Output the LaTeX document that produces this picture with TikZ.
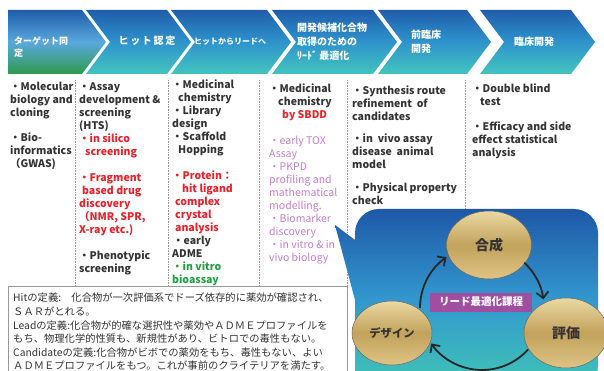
\documentclass[tikz,border=0pt]{standalone}
\usepackage{fontspec}
\setmainfont{Noto Sans CJK JP}
\usetikzlibrary{arrows.meta,calc,shapes.geometric}
\definecolor{txt}{HTML}{333333}
\definecolor{redt}{HTML}{E8202A}
\definecolor{greent}{HTML}{1FA040}
\definecolor{purt}{HTML}{C07EC8}
\definecolor{labp}{HTML}{A04FA0}
\definecolor{chtop}{HTML}{1F5DAA}
\definecolor{chmid}{HTML}{2E94CC}
\definecolor{chbot}{HTML}{44C4BE}
\definecolor{c1mid}{HTML}{5AA8DE}
\definecolor{c1bot}{HTML}{2E9A4E}
\definecolor{gold1}{HTML}{EAD9A2}
\definecolor{gold2}{HTML}{C2A25C}
\definecolor{gold3}{HTML}{DEC484}
\definecolor{blobtop}{HTML}{1E58A8}
\definecolor{blobmid}{HTML}{3398CE}
\definecolor{blobbot}{HTML}{40C6B4}
\begin{document}
\begin{tikzpicture}[x=1pt,y=-1pt,
  chev/.style={top color=chtop,bottom color=chbot,middle color=chmid},
  chevtxt/.style={text=white,font=\bfseries\fontsize{10}{14}\selectfont,inner sep=0,align=left},
  coltxt/.style={text=txt,font=\bfseries\fontsize{10.5}{13}\selectfont,inner sep=0,align=left,anchor=north west},
  sep/.style={draw=gray!80,densely dotted,line width=0.6pt},
  gold/.style={ellipse,draw=black!60,line width=0.5pt,top color=gold1,bottom color=gold3,middle color=gold2,inner sep=0,text=txt},
  cyc/.style={draw=black!85,line width=1.8pt,-{Straight Barb[length=6pt,width=12pt,line width=1.8pt]}}]
\useasboundingbox (0,0) rectangle (604,371);
\clip (0,0) rectangle (604,371);
% chevrons
\shade[top color=chtop,bottom color=c1bot,middle color=c1mid] (8,10) -- (82,10) -- (106,42) -- (82,74) -- (8,74) -- cycle;
\shade[chev] (86,10) -- (167,10) -- (191,42) -- (167,74) -- (86,74) -- (110,42) -- cycle;
\shade[chev] (171,10) -- (267,10) -- (291,42) -- (267,74) -- (171,74) -- (195,42) -- cycle;
\shade[chev] (272,10) -- (373,10) -- (397,42) -- (373,74) -- (272,74) -- (296,42) -- cycle;
\shade[chev] (378,10) -- (467,10) -- (491,42) -- (467,74) -- (378,74) -- (402,42) -- cycle;
\shade[chev] (480,10) -- (571,10) -- (595,42) -- (571,74) -- (480,74) -- (504,42) -- cycle;
\node[chevtxt,anchor=north west,font=\bfseries\fontsize{9}{12.5}\selectfont] (h1) at (14,36) {ターゲット同\\定};
\node[chevtxt] (h2) at (147,41) {ヒ\,ッ\,ト\,認\,定};
\node[chevtxt,font=\bfseries\fontsize{8}{10}\selectfont] (h3) at (230,42) {ヒットからリードへ};
\node[chevtxt,anchor=west] (h4) at (297,42) {開発候補化合物\\取得のための\\ﾘｰﾄﾞ 最適化};
\node[chevtxt,anchor=west] (h5) at (411,42) {前臨床\\開発};
\node[chevtxt] (h6) at (534,42) {臨床開発};
% separators
\draw[sep] (75,80) -- (75,286);
\draw[sep] (168,80) -- (168,286);
\draw[sep] (259,80) -- (259,286);
\draw[sep] (347,80) -- (347,286);
\draw[sep] (465,80) -- (465,212);
% columns
\node[coltxt] (col1) at (10,82) {・Molecular\\biology and\\cloning\\[12pt]・Bio-\\informatics\\（GWAS)};
\node[coltxt] (col2) at (79,82) {・Assay\\development \&\\screening\\(HTS)\\
 \textcolor{redt}{・in silico}\\\textcolor{redt}{\hspace{6pt}screening}\\[13pt]
 \textcolor{redt}{・Fragment}\\\textcolor{redt}{\hspace{3pt}based drug}\\\textcolor{redt}{discovery}\\\textcolor{redt}{（NMR, SPR,}\\\textcolor{redt}{X-ray etc.)}\\[13pt]
 ・Phenotypic\\screening};
\node[coltxt] (col3) at (172,80) {・Medicinal\\\hspace{6pt}chemistry\\・Library\\design\\・Scaffold\\\hspace{6pt}Hopping\\[13pt]
 \textcolor{redt}{・Protein：}\\\textcolor{redt}{\hspace{10pt}hit ligand}\\\textcolor{redt}{\hspace{3pt}complex}\\\textcolor{redt}{\hspace{3pt}crystal}\\\textcolor{redt}{\hspace{3pt}analysis}\\
 \hspace{1pt}・early\\ADME\\\textcolor{greent}{・in vitro}\\\textcolor{greent}{bioassay}};
\node[coltxt] (col4) at (269,84) {・Medicinal\\\hspace{9pt}chemistry\\\hspace{13pt}\textcolor{redt}{by SBDD}\\[13pt]
 \textcolor{purt}{\mdseries ・early TOX}\\\textcolor{purt}{\mdseries Assay}\\\textcolor{purt}{\mdseries ・PKPD}\\\textcolor{purt}{\mdseries profiling and}\\\textcolor{purt}{\mdseries mathematical}\\\textcolor{purt}{\mdseries modelling.}\\\textcolor{purt}{\mdseries ・Biomarker}\\\textcolor{purt}{\mdseries discovery}\\\textcolor{purt}{\mdseries ・in vitro \& in}\\\textcolor{purt}{\mdseries vivo biology}};
\node[coltxt] (col5) at (352,86) {・Synthesis route\\refinement\ \ of\\candidates\\[9pt]・in\ \ vivo assay\\disease\ \ animal\\model\\[10pt]・Physical property\\check};
\node[coltxt] (col6) at (472,84) {・Double blind\\\hspace{8pt}test\\[12pt]・Efficacy and side\\effect statistical\\analysis};
% definitions box
\draw[draw=gray!80,fill=white,line width=0.7pt] (8,286) rectangle (347,380);
\node[anchor=north west,inner sep=0,align=left,text=txt,font=\fontsize{10.3}{13.6}\selectfont] (defs) at (13,293)
 {Hitの定義:　化合物が一次評価系でドーズ依存的に薬効が確認され、\\ＳＡＲがとれる。\\Leadの定義:化合物が的確な選択性や薬効やＡＤＭＥプロファイルを\\もち、物理化学的性質も、新規性があり、ビトロでの毒性もない。\\Candidateの定義:化合物がビボでの薬効をもち、毒性もない、よい\\ＡＤＭＥプロファイルをもつ。これが事前のクライテリアを満たす。};
% blob
\shade[top color=blobtop,bottom color=blobbot,middle color=blobmid]
  (355,380) -- (355,300) -- (335,225) -- (355,240) [rounded corners=24pt] -- (355,209) -- (598,209) -- (598,390) [sharp corners] -- (355,390) -- cycle;
\node[gold,minimum width=85pt,minimum height=68pt,font=\bfseries\fontsize{14}{16}\selectfont] (gosei) at (489,245) {合成};
\node[gold,minimum width=84pt,minimum height=70pt,font=\bfseries\fontsize{14}{16}\selectfont] (hyoka) at (566,333) {評価};
\node[gold,minimum width=80pt,minimum height=64pt,font=\bfseries\fontsize{11.3}{14}\selectfont] (design) at (392,333) {デザイン};
\node[fill=labp,text=white,minimum width=102pt,minimum height=19pt,inner sep=0,font=\bfseries\fontsize{10.5}{12}\selectfont] (lab) at (481,302) {リード最適化課程};
\coordinate (cc) at (482,308);
\draw[cyc] ($(cc)+(-47:62)$) arc[start angle=-47,end angle=-8,radius=62];
\draw[cyc] ($(cc)+(42:62)$) arc[start angle=42,end angle=145,radius=62];
\draw[cyc] ($(cc)+(180:62)$) arc[start angle=180,end angle=235,radius=62];
\end{tikzpicture}
\end{document}
